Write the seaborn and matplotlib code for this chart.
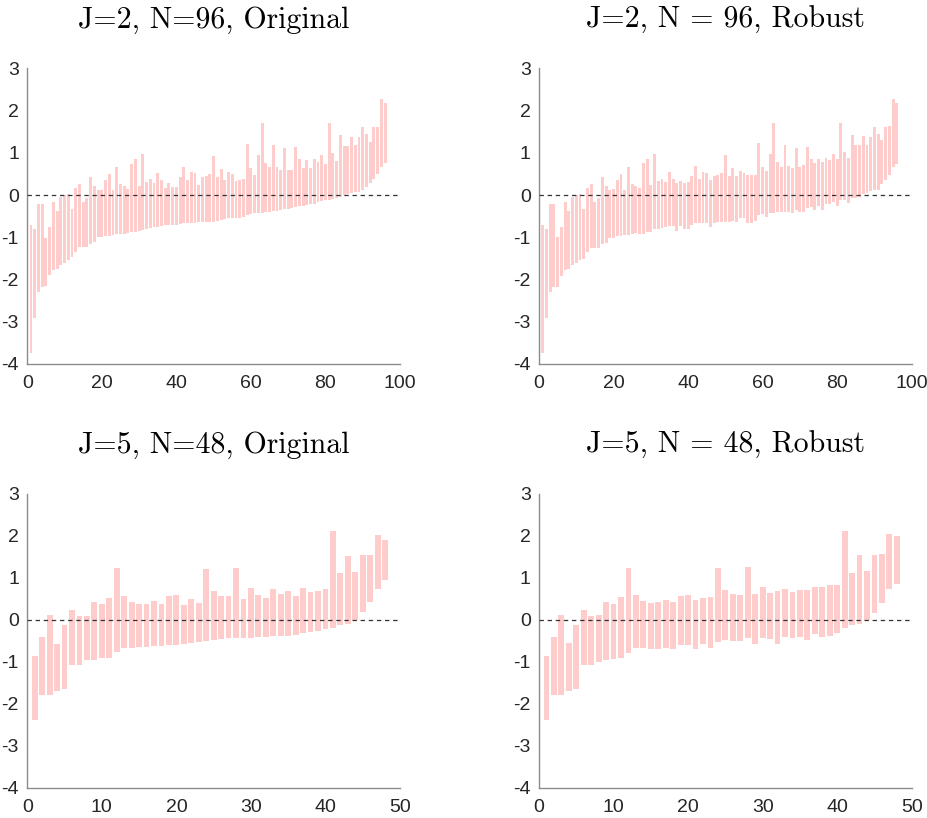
import numpy as np
import pandas as pd
import matplotlib
matplotlib.use("Agg")
import matplotlib.pyplot as plt
import seaborn as sns

# ---------------- data ----------------
titles = ["J=2, N=96, Original", "J=2, N = 96, Robust",
          "J=5, N=48, Original", "J=5, N = 48, Robust"]

j2_orig_lower = [-3.75, -2.91, -2.29, -2.17, -2.16, -1.90, -1.78, -1.76, -1.66, -1.62,
                 -1.53, -1.46, -1.35, -1.24, -1.24, -1.23, -1.15, -1.11, -1.00, -0.99,
                 -0.97, -0.97, -0.95, -0.93, -0.92, -0.92, -0.91, -0.88, -0.87, -0.86,
                 -0.83, -0.80, -0.78, -0.77, -0.75, -0.73, -0.72, -0.71, -0.70, -0.70,
                 -0.69, -0.67, -0.66, -0.66, -0.66, -0.65, -0.65, -0.64, -0.64, -0.63,
                 -0.62, -0.59, -0.56, -0.55, -0.55, -0.54, -0.54, -0.53, -0.48, -0.45,
                 -0.43, -0.43, -0.42, -0.40, -0.40, -0.38, -0.37, -0.36, -0.34, -0.32,
                 -0.30, -0.28, -0.27, -0.25, -0.23, -0.22, -0.21, -0.17, -0.15, -0.13,
                 -0.12, -0.10, -0.08, -0.04, 0.00, 0.02, 0.04, 0.06, 0.07, 0.12,
                 0.20, 0.28, 0.38, 0.49, 0.66, 0.75]
j2_orig_upper = [-0.71, -0.81, -0.21, -0.21, -1.01, -0.77, -0.17, -0.37, -0.05, 0.00,
                 0.02, -0.34, 0.16, 0.26, -0.17, -0.08, 0.43, 0.21, 0.12, 0.13,
                 0.36, 0.50, 0.12, 0.67, 0.25, 0.22, 0.14, 0.74, 0.85, 0.21,
                 0.96, 0.31, 0.37, 0.28, 0.51, 0.36, 0.16, 0.28, 0.20, 0.20,
                 0.42, 0.67, 0.35, 0.54, 0.51, 0.23, 0.42, 0.45, 0.49, 0.93,
                 0.43, 0.62, 0.36, 0.54, 0.50, 0.33, 0.35, 0.38, 1.22, 0.64,
                 0.47, 0.94, 1.71, 0.77, 0.66, 1.19, 0.66, 0.59, 1.11, 0.59,
                 0.59, 1.13, 0.85, 0.65, 0.83, 0.65, 0.85, 0.78, 0.95, 0.74,
                 1.71, 0.99, 0.81, 1.42, 1.16, 1.16, 1.38, 1.18, 1.38, 1.60,
                 1.45, 1.25, 1.60, 1.62, 2.28, 2.18]

j2_rob_lower = [-3.75, -2.91, -2.29, -2.17, -2.17, -1.91, -1.78, -1.75, -1.66, -1.62,
                -1.53, -1.52, -1.35, -1.26, -1.25, -1.25, -1.15, -1.13, -1.03, -1.02,
                -0.97, -0.96, -0.95, -0.94, -0.93, -0.91, -0.93, -0.92, -0.87, -0.87,
                -0.81, -0.81, -0.78, -0.77, -0.74, -0.73, -0.85, -0.73, -0.80, -0.80,
                -0.70, -0.67, -0.67, -0.67, -0.67, -0.77, -0.66, -0.65, -0.64, -0.63,
                -0.64, -0.61, -0.63, -0.55, -0.55, -0.67, -0.66, -0.61, -0.48, -0.46,
                -0.51, -0.43, -0.42, -0.40, -0.40, -0.40, -0.40, -0.42, -0.36, -0.40,
                -0.41, -0.30, -0.29, -0.35, -0.25, -0.36, -0.22, -0.21, -0.17, -0.26,
                -0.13, -0.13, -0.18, -0.06, -0.06, -0.04, 0.02, 0.04, 0.10, 0.12,
                0.12, 0.25, 0.36, 0.47, 0.66, 0.74]
j2_rob_upper = [-0.71, -0.81, -0.21, -0.21, -1.00, -0.75, -0.16, -0.37, -0.04, 0.00,
                0.02, -0.33, 0.17, 0.26, -0.16, -0.06, 0.43, 0.21, 0.13, 0.14,
                0.36, 0.50, 0.13, 0.67, 0.26, 0.22, 0.16, 0.75, 0.85, 0.23,
                0.96, 0.32, 0.38, 0.30, 0.54, 0.38, 0.28, 0.32, 0.28, 0.30,
                0.44, 0.69, 0.38, 0.55, 0.52, 0.36, 0.44, 0.47, 0.51, 0.95,
                0.45, 0.63, 0.44, 0.56, 0.51, 0.47, 0.47, 0.47, 1.23, 0.66,
                0.57, 0.96, 1.71, 0.78, 0.67, 1.19, 0.68, 0.65, 1.11, 0.66,
                0.70, 1.13, 0.85, 0.75, 0.85, 0.78, 0.87, 0.83, 0.96, 0.85,
                1.71, 1.01, 0.88, 1.42, 1.18, 1.18, 1.39, 1.19, 1.38, 1.60,
                1.45, 1.30, 1.61, 1.64, 2.28, 2.18]

j5_orig_lower = [-2.37, -1.79, -1.79, -1.68, -1.64, -1.08, -1.06, -0.96, -0.95, -0.91,
                 -0.90, -0.77, -0.66, -0.66, -0.65, -0.64, -0.63, -0.63, -0.59, -0.59,
                 -0.58, -0.55, -0.53, -0.51, -0.47, -0.46, -0.44, -0.43, -0.43, -0.42,
                 -0.40, -0.40, -0.39, -0.39, -0.37, -0.36, -0.32, -0.29, -0.25, -0.22,
                 -0.18, -0.11, -0.09, 0.00, 0.18, 0.44, 0.75, 0.95]
j5_orig_upper = [-0.86, -0.40, 0.13, -0.56, -0.12, 0.23, 0.10, 0.09, 0.43, 0.37,
                 0.53, 1.25, 0.58, 0.44, 0.37, 0.38, 0.45, 0.38, 0.56, 0.59,
                 0.36, 0.51, 0.40, 1.22, 0.69, 0.58, 0.56, 1.25, 0.50, 0.76,
                 0.59, 0.52, 0.73, 0.62, 0.68, 0.58, 0.77, 0.67, 0.68, 0.74,
                 2.12, 1.11, 1.52, 1.15, 1.54, 1.55, 2.02, 1.90]

j5_rob_lower = [-2.37, -1.79, -1.79, -1.70, -1.64, -1.08, -1.08, -0.99, -0.95, -0.92,
                -0.90, -0.78, -0.67, -0.67, -0.70, -0.68, -0.66, -0.69, -0.60, -0.60,
                -0.69, -0.57, -0.67, -0.52, -0.48, -0.49, -0.50, -0.43, -0.56, -0.44,
                -0.46, -0.56, -0.40, -0.44, -0.40, -0.48, -0.34, -0.40, -0.38, -0.32,
                -0.18, -0.13, -0.10, 0.00, 0.17, 0.41, 0.75, 0.86]
j5_rob_upper = [-0.86, -0.40, 0.13, -0.55, -0.12, 0.23, 0.10, 0.11, 0.43, 0.38,
                0.54, 1.25, 0.59, 0.46, 0.40, 0.42, 0.48, 0.43, 0.57, 0.59,
                0.48, 0.53, 0.54, 1.23, 0.71, 0.61, 0.60, 1.26, 0.63, 0.78,
                0.65, 0.68, 0.75, 0.67, 0.71, 0.71, 0.79, 0.79, 0.83, 0.83,
                2.12, 1.12, 1.54, 1.17, 1.55, 1.56, 2.05, 2.00]

panels = [
    (titles[0], j2_orig_lower, j2_orig_upper, 100, [0, 20, 40, 60, 80, 100]),
    (titles[1], j2_rob_lower, j2_rob_upper, 100, [0, 20, 40, 60, 80, 100]),
    (titles[2], j5_orig_lower, j5_orig_upper, 50, [0, 10, 20, 30, 40, 50]),
    (titles[3], j5_rob_lower, j5_rob_upper, 50, [0, 10, 20, 30, 40, 50]),
]
yticks = [-4, -3, -2, -1, 0, 1, 2, 3]

# ---------------- style ----------------
sns.set_style("white")
plt.rcParams["font.family"] = ["Liberation Sans", "DejaVu Sans"]
plt.rcParams["axes.unicode_minus"] = False

fig = plt.figure(figsize=(9.28, 8.18), dpi=100)
W, H = 928.0, 818.0
boxes = [  # left, top, right, bottom in pixels
    (27.3, 68.4, 400.0, 363.8),
    (539.0, 68.4, 911.7, 363.8),
    (27.3, 494.0, 400.0, 788.0),
    (539.0, 494.0, 911.7, 788.0),
]

bar_color = "#ffcccc"
spine_color = "#8c8c8c"
text_color = "#262626"

for (title, lower, upper, xmax, xt), (l, t, r, b) in zip(panels, boxes):
    ax = fig.add_axes([l / W, 1 - b / H, (r - l) / W, (b - t) / H])
    df = pd.DataFrame({
        "pos": np.arange(1, len(lower) + 1),
        "height": np.array(upper) - np.array(lower),
    })
    sns.barplot(data=df, x="pos", y="height", native_scale=True,
                bottom=np.array(lower), width=0.78, color=bar_color,
                saturation=1, errorbar=None, linewidth=0, ax=ax)
    for p in ax.patches:
        p.set_facecolor(bar_color)
        p.set_edgecolor("none")
    ax.axhline(0, color="#333333", linestyle=(0, (3.5, 3.0)), linewidth=0.9, zorder=3)
    ax.set_xlim(0, xmax)
    ax.set_ylim(-4, 3)
    ax.set_xticks(xt)
    ax.set_yticks(yticks)
    ax.set_xlabel("")
    ax.set_ylabel("")
    for s in ["top", "right"]:
        ax.spines[s].set_visible(False)
    for s in ["left", "bottom"]:
        ax.spines[s].set_color(spine_color)
        ax.spines[s].set_linewidth(1.0)
    ax.tick_params(direction="in", length=3.5, width=0.8, color=spine_color,
                   labelsize=14, labelcolor=text_color)
    ax.tick_params(axis="x", pad=8)
    ax.tick_params(axis="y", pad=6)
    ax.set_title(title, fontfamily="cmr10", fontsize=21.5, pad=29.5, color="black")

fig.savefig("out.png", dpi=100)
